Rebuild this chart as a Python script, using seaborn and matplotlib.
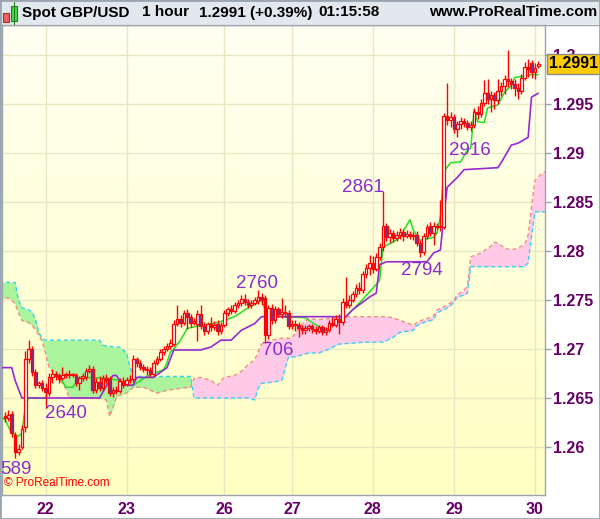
import numpy as np
import matplotlib
matplotlib.use("Agg")
import matplotlib.pyplot as plt
from matplotlib.colors import LinearSegmentedColormap
from matplotlib.patches import Rectangle
import seaborn as sns

# hourly candles, bar 0 = 21st 12:00, last bar = 30th 01:00
opens = [1.2632, 1.2630, 1.2634, 1.2612, 1.2595, 1.2600, 1.2620, 1.2690, 1.2700, 1.2677,
         1.2663, 1.2665, 1.2660, 1.2655, 1.2671, 1.2674, 1.2673, 1.2670, 1.2673, 1.2674,
         1.2673, 1.2673, 1.2665, 1.2670, 1.2671, 1.2678, 1.2680, 1.2658, 1.2666, 1.2660,
         1.2670, 1.2669, 1.2655, 1.2658, 1.2657, 1.2667, 1.2664, 1.2668, 1.2669, 1.2690,
         1.2686, 1.2682, 1.2680, 1.2679, 1.2674, 1.2686, 1.2690, 1.2697, 1.2700, 1.2703,
         1.2705, 1.2726, 1.2731, 1.2727, 1.2737, 1.2733, 1.2727, 1.2726, 1.2736, 1.2723,
         1.2718, 1.2725, 1.2722, 1.2726, 1.2718, 1.2724, 1.2737, 1.2741, 1.2739, 1.2745,
         1.2747, 1.2751, 1.2748, 1.2745, 1.2747, 1.2749, 1.2753, 1.2752, 1.2714, 1.2742,
         1.2730, 1.2741, 1.2736, 1.2738, 1.2737, 1.2723, 1.2726, 1.2724, 1.2721, 1.2719,
         1.2721, 1.2723, 1.2720, 1.2718, 1.2722, 1.2717, 1.2719, 1.2727, 1.2725, 1.2731,
         1.2728, 1.2748, 1.2745, 1.2750, 1.2756, 1.2762, 1.2760, 1.2777, 1.2783, 1.2788,
         1.2782, 1.2794, 1.2804, 1.2826, 1.2814, 1.2818, 1.2813, 1.2816, 1.2819, 1.2815,
         1.2817, 1.2815, 1.2816, 1.2808, 1.2799, 1.2815, 1.2826, 1.2818, 1.2825, 1.2826,
         1.2825, 1.2938, 1.2934, 1.2937, 1.2924, 1.2930, 1.2933, 1.2931, 1.2927, 1.2929,
         1.2942, 1.2940, 1.2951, 1.2961, 1.2955, 1.2959, 1.2954, 1.2963, 1.2968, 1.2975,
         1.2973, 1.2970, 1.2966, 1.2963, 1.2977, 1.2988, 1.2992, 1.2983, 1.2989]
highs = [1.2636, 1.2638, 1.2637, 1.2615, 1.2603, 1.2622, 1.2698, 1.2709, 1.2703, 1.2680,
         1.2667, 1.2668, 1.2665, 1.2676, 1.2680, 1.2678, 1.2676, 1.2682, 1.2677, 1.2679,
         1.2676, 1.2676, 1.2672, 1.2676, 1.2681, 1.2684, 1.2683, 1.2670, 1.2672, 1.2673,
         1.2674, 1.2672, 1.2661, 1.2662, 1.2670, 1.2671, 1.2671, 1.2673, 1.2694, 1.2692,
         1.2689, 1.2685, 1.2683, 1.2682, 1.2689, 1.2693, 1.2700, 1.2703, 1.2706, 1.2710,
         1.2730, 1.2745, 1.2735, 1.2740, 1.2741, 1.2736, 1.2732, 1.2740, 1.2745, 1.2728,
         1.2728, 1.2733, 1.2729, 1.2730, 1.2728, 1.2740, 1.2743, 1.2745, 1.2748, 1.2750,
         1.2755, 1.2756, 1.2751, 1.2750, 1.2753, 1.2760, 1.2757, 1.2755, 1.2745, 1.2746,
         1.2744, 1.2743, 1.2752, 1.2745, 1.2740, 1.2730, 1.2730, 1.2728, 1.2725, 1.2724,
         1.2726, 1.2726, 1.2723, 1.2725, 1.2724, 1.2722, 1.2730, 1.2733, 1.2735, 1.2736,
         1.2752, 1.2773, 1.2755, 1.2759, 1.2766, 1.2768, 1.2780, 1.2787, 1.2796, 1.2795,
         1.2798, 1.2808, 1.2861, 1.2829, 1.2822, 1.2821, 1.2820, 1.2823, 1.2822, 1.2821,
         1.2820, 1.2819, 1.2820, 1.2811, 1.2818, 1.2828, 1.2830, 1.2830, 1.2829, 1.2852,
         1.2941, 1.2971, 1.2942, 1.2940, 1.2933, 1.2937, 1.2936, 1.2934, 1.2933, 1.2946,
         1.2948, 1.2955, 1.2974, 1.2975, 1.2963, 1.2962, 1.2975, 1.2972, 1.2980, 1.3005,
         1.2977, 1.2975, 1.2971, 1.2981, 1.2993, 1.2996, 1.2995, 1.2992, 1.2994]
lows = [1.2626, 1.2627, 1.2610, 1.2589, 1.2592, 1.2598, 1.2615, 1.2686, 1.2672, 1.2660,
        1.2660, 1.2657, 1.2640, 1.2652, 1.2665, 1.2668, 1.2665, 1.2668, 1.2670, 1.2670,
        1.2671, 1.2662, 1.2658, 1.2667, 1.2668, 1.2675, 1.2655, 1.2655, 1.2657, 1.2657,
        1.2665, 1.2652, 1.2651, 1.2654, 1.2655, 1.2660, 1.2662, 1.2665, 1.2666, 1.2682,
        1.2679, 1.2677, 1.2673, 1.2671, 1.2672, 1.2684, 1.2688, 1.2694, 1.2698, 1.2700,
        1.2703, 1.2723, 1.2722, 1.2724, 1.2720, 1.2722, 1.2724, 1.2708, 1.2720, 1.2714,
        1.2715, 1.2718, 1.2719, 1.2714, 1.2715, 1.2722, 1.2734, 1.2736, 1.2737, 1.2742,
        1.2744, 1.2745, 1.2742, 1.2742, 1.2745, 1.2746, 1.2745, 1.2706, 1.2710, 1.2726,
        1.2727, 1.2733, 1.2732, 1.2733, 1.2720, 1.2720, 1.2718, 1.2712, 1.2715, 1.2715,
        1.2718, 1.2716, 1.2715, 1.2716, 1.2714, 1.2714, 1.2717, 1.2722, 1.2722, 1.2715,
        1.2725, 1.2742, 1.2742, 1.2748, 1.2753, 1.2756, 1.2757, 1.2772, 1.2775, 1.2778,
        1.2780, 1.2791, 1.2800, 1.2810, 1.2808, 1.2809, 1.2810, 1.2812, 1.2810, 1.2813,
        1.2812, 1.2811, 1.2805, 1.2794, 1.2796, 1.2812, 1.2815, 1.2806, 1.2822, 1.2820,
        1.2822, 1.2929, 1.2927, 1.2920, 1.2916, 1.2925, 1.2927, 1.2923, 1.2922, 1.2926,
        1.2935, 1.2937, 1.2948, 1.2950, 1.2942, 1.2945, 1.2950, 1.2958, 1.2960, 1.2967,
        1.2965, 1.2958, 1.2955, 1.2960, 1.2974, 1.2978, 1.2977, 1.2975, 1.2987]
closes = [1.2630, 1.2633, 1.2614, 1.2595, 1.2598, 1.2618, 1.2690, 1.2700, 1.2677, 1.2663,
          1.2665, 1.2660, 1.2656, 1.2671, 1.2674, 1.2672, 1.2669, 1.2673, 1.2674, 1.2673,
          1.2674, 1.2665, 1.2670, 1.2672, 1.2678, 1.2680, 1.2658, 1.2666, 1.2660, 1.2670,
          1.2668, 1.2655, 1.2658, 1.2657, 1.2667, 1.2663, 1.2668, 1.2669, 1.2690, 1.2686,
          1.2682, 1.2680, 1.2679, 1.2674, 1.2686, 1.2690, 1.2697, 1.2700, 1.2703, 1.2706,
          1.2726, 1.2731, 1.2727, 1.2737, 1.2733, 1.2727, 1.2729, 1.2736, 1.2723, 1.2718,
          1.2725, 1.2722, 1.2724, 1.2718, 1.2724, 1.2737, 1.2741, 1.2739, 1.2745, 1.2747,
          1.2751, 1.2748, 1.2745, 1.2747, 1.2750, 1.2753, 1.2750, 1.2714, 1.2742, 1.2730,
          1.2741, 1.2736, 1.2738, 1.2737, 1.2723, 1.2726, 1.2724, 1.2721, 1.2719, 1.2721,
          1.2723, 1.2720, 1.2718, 1.2722, 1.2717, 1.2719, 1.2727, 1.2725, 1.2731, 1.2728,
          1.2748, 1.2745, 1.2750, 1.2756, 1.2762, 1.2760, 1.2777, 1.2783, 1.2788, 1.2782,
          1.2794, 1.2804, 1.2826, 1.2814, 1.2818, 1.2813, 1.2816, 1.2819, 1.2815, 1.2817,
          1.2815, 1.2816, 1.2808, 1.2799, 1.2815, 1.2824, 1.2818, 1.2825, 1.2826, 1.2825,
          1.2938, 1.2934, 1.2937, 1.2924, 1.2930, 1.2933, 1.2931, 1.2927, 1.2929, 1.2942,
          1.2940, 1.2951, 1.2961, 1.2955, 1.2959, 1.2954, 1.2963, 1.2968, 1.2975, 1.2973,
          1.2970, 1.2966, 1.2963, 1.2977, 1.2988, 1.2986, 1.2983, 1.2987, 1.2991]

# Ichimoku lines (bar index, price)
tenkan_idx = [-1, 0, 2, 4, 5, 6, 7, 12, 14, 16, 18, 20, 22, 26, 30, 34, 36, 38, 42, 47,
              48, 49, 50, 52, 54, 58, 63, 68, 72, 75, 76, 77, 78, 82, 89, 91, 95, 98, 101, 105,
              109, 111, 112, 115, 117, 120, 121, 123, 127, 128, 129, 130, 132, 135, 137, 138, 139, 140, 142, 143,
              146, 148, 150, 151, 156, 158]
tenkan = [1.2630, 1.2628, 1.2614, 1.2611, 1.2614, 1.2641, 1.2650, 1.2650, 1.2673, 1.2673,
          1.2661, 1.2661, 1.2670, 1.2671, 1.2670, 1.2668, 1.2663, 1.2663, 1.2672, 1.2679,
          1.2686, 1.2697, 1.2700, 1.2709, 1.2721, 1.2724, 1.2727, 1.2733, 1.2742, 1.2748,
          1.2750, 1.2741, 1.2735, 1.2733, 1.2732, 1.2727, 1.2719, 1.2728, 1.2733, 1.2747,
          1.2762, 1.2770, 1.2804, 1.2809, 1.2814, 1.2832, 1.2821, 1.2811, 1.2814, 1.2818,
          1.2835, 1.2881, 1.2890, 1.2891, 1.2903, 1.2905, 1.2944, 1.2932, 1.2931, 1.2946,
          1.2949, 1.2962, 1.2969, 1.2977, 1.2980, 1.2980]
kijun_idx = [-1, 2, 3, 5, 28, 30, 32, 33, 35, 38, 39, 44, 48, 49, 50, 58, 61, 64, 67, 70,
             74, 76, 101, 103, 108, 110, 111, 113, 125, 127, 129, 130, 131, 134, 136, 146, 147, 150, 152, 155,
             156, 158]
kijun = [1.2681, 1.2681, 1.2668, 1.2650, 1.2650, 1.2662, 1.2673, 1.2673, 1.2663, 1.2663,
         1.2671, 1.2671, 1.2681, 1.2690, 1.2699, 1.2699, 1.2702, 1.2709, 1.2709, 1.2719,
         1.2726, 1.2733, 1.2733, 1.2740, 1.2753, 1.2757, 1.2786, 1.2789, 1.2789, 1.2798,
         1.2801, 1.2835, 1.2865, 1.2875, 1.2883, 1.2885, 1.2890, 1.2908, 1.2910, 1.2916,
         1.2957, 1.2961]
span_idx = [-2, 0, 1, 2, 3, 4, 5, 6, 7, 8,
            9, 10, 11, 12, 13, 14, 16, 18, 19, 28,
            29, 30, 31, 32, 33, 34, 35, 36, 37, 38,
            41, 45, 48, 52, 55, 56, 58, 61, 63, 64,
            65, 68, 70, 72, 74, 75, 76, 79, 82, 83,
            84, 85, 86, 88, 90, 93, 96, 99, 103, 107,
            112, 115, 117, 119, 121, 122, 124, 126, 127, 128,
            130, 131, 132, 133, 134, 136, 137, 138, 141, 144,
            145, 146, 148, 150, 152, 154, 155, 156, 157, 159,
            161]
span_a = [1.2768, 1.2768, 1.2768, 1.2768, 1.2768, 1.2750, 1.2742, 1.2741, 1.2740, 1.2738,
          1.2730, 1.2717, 1.2711, 1.2709, 1.2709, 1.2709, 1.2709, 1.2709, 1.2709, 1.2709,
          1.2704, 1.2703, 1.2703, 1.2702, 1.2702, 1.2702, 1.2699, 1.2696, 1.2682, 1.2672,
          1.2672, 1.2672, 1.2672, 1.2672, 1.2672, 1.2650, 1.2650, 1.2650, 1.2650, 1.2650,
          1.2650, 1.2650, 1.2650, 1.2650, 1.2648, 1.2660, 1.2665, 1.2666, 1.2668, 1.2680,
          1.2692, 1.2692, 1.2692, 1.2694, 1.2696, 1.2696, 1.2700, 1.2705, 1.2706, 1.2707,
          1.2707, 1.2712, 1.2717, 1.2718, 1.2719, 1.2724, 1.2727, 1.2729, 1.2730, 1.2737,
          1.2740, 1.2742, 1.2744, 1.2748, 1.2753, 1.2755, 1.2757, 1.2784, 1.2784, 1.2784,
          1.2784, 1.2784, 1.2784, 1.2784, 1.2784, 1.2784, 1.2788, 1.2815, 1.2840, 1.2840,
          1.2840]
span_b = [1.2750, 1.2752, 1.2752, 1.2750, 1.2746, 1.2737, 1.2729, 1.2728, 1.2727, 1.2724,
          1.2720, 1.2714, 1.2708, 1.2696, 1.2682, 1.2677, 1.2670, 1.2660, 1.2650, 1.2650,
          1.2649, 1.2648, 1.2631, 1.2640, 1.2651, 1.2653, 1.2654, 1.2655, 1.2658, 1.2661,
          1.2661, 1.2655, 1.2658, 1.2660, 1.2661, 1.2670, 1.2671, 1.2668, 1.2663, 1.2668,
          1.2671, 1.2673, 1.2677, 1.2684, 1.2689, 1.2697, 1.2705, 1.2709, 1.2711, 1.2711,
          1.2711, 1.2711, 1.2716, 1.2725, 1.2731, 1.2730, 1.2731, 1.2733, 1.2733, 1.2733,
          1.2733, 1.2732, 1.2729, 1.2727, 1.2724, 1.2727, 1.2730, 1.2732, 1.2734, 1.2740,
          1.2743, 1.2745, 1.2747, 1.2750, 1.2755, 1.2760, 1.2764, 1.2794, 1.2798, 1.2805,
          1.2809, 1.2808, 1.2803, 1.2801, 1.2803, 1.2807, 1.2816, 1.2845, 1.2872, 1.2879,
          1.2883]

# swing labels
swing_idx = [3, 12, 75, 77, 112, 123, 134]
swing_text = ["589", "2640", "2760", "706", "2861", "2794", "2916"]
swing_high = [False, False, True, False, True, False, False]

day_pos = [12, 36, 65, 85, 109, 133, 157]
day_labels = ["22", "23", "26", "27", "28", "29", "30"]
price_ticks = [1.26, 1.265, 1.27, 1.275, 1.28, 1.285, 1.29, 1.295, 1.30]
price_labels = ["1.26", "1.265", "1.27", "1.275", "1.28", "1.285", "1.29", "1.295", "1.3"]


def main():
    sns.set_theme(style="white")
    plt.rcParams["font.family"] = ["Liberation Sans", "DejaVu Sans"]

    W, H = 600, 519
    fig = plt.figure(figsize=(W / 100, H / 100), dpi=100)
    fig.patch.set_facecolor("white")

    def fx(px):
        return px / W

    def fy(py):
        return 1 - py / H

    ax = fig.add_axes([fx(2), fy(495), (545 - 2) / W, (495 - 25) / H])
    ax.set_xlim((2 - 5) / 3.375, (545 - 5) / 3.375)
    ax.set_ylim(1.26 - 48 / 9800, 1.26 + 422 / 9800)

    # yellow gradient background
    cmap = LinearSegmentedColormap.from_list("bg", ["#ffffc2", "#fffff2"])
    ax.imshow(np.linspace(0, 1, 256).reshape(-1, 1), extent=[0, 1, 0, 1], transform=ax.transAxes,
              cmap=cmap, aspect="auto", origin="lower", zorder=0)

    # cloud
    si = np.array(span_idx, dtype=float)
    sa = np.array(span_a)
    sb = np.array(span_b)
    ax.fill_between(si, sa, sb, where=sa >= sb, interpolate=True, color="#aaf59c", lw=0, zorder=1)
    ax.fill_between(si, sa, sb, where=sa < sb, interpolate=True, color="#ffcae8", lw=0, zorder=1)
    ax.plot(si, sa, color="#33d4f0", lw=1, dashes=(3, 2), zorder=2)
    ax.plot(si, sb, color="#f58a8a", lw=1, dashes=(3, 2), zorder=2)

    # tenkan / kijun
    sns.lineplot(x=tenkan_idx, y=tenkan, ax=ax, color="#22e022", lw=1.1, estimator=None, sort=False, zorder=3)
    sns.lineplot(x=kijun_idx, y=kijun, ax=ax, color="#9a28d0", lw=1.2, estimator=None, sort=False, zorder=3)

    # candles
    o = np.array(opens)
    c = np.array(closes)
    h = np.array(highs)
    l = np.array(lows)
    idx = np.arange(len(c))
    up = c >= o
    ax.vlines(idx, l, h, color="#ff0000", lw=1, zorder=4)
    lo = np.minimum(o, c)
    bh = np.maximum(np.abs(c - o), 0.00004)
    ax.bar(idx[up], bh[up], bottom=lo[up], width=0.8, color="#ffffff", edgecolor="#ff0000",
           linewidth=0.9, zorder=5)
    ax.bar(idx[~up], bh[~up], bottom=lo[~up], width=0.8, color="#6a3a9e", edgecolor="#ff0000",
           linewidth=0.9, zorder=5)

    # swing labels
    offsets = [(1, -12), (20, -6), (-1, 7), (13, -7), (-20, 4), (2, -14), (13, -13)]
    for i, txt, is_high, off in zip(swing_idx, swing_text, swing_high, offsets):
        yv = highs[i] if is_high else lows[i]
        ax.annotate(txt, xy=(i, yv), xytext=off, textcoords="offset pixels", ha="center", va="center",
                    fontsize=13.5, color="#8a2ccf", zorder=7, annotation_clip=False)

    # axes
    ax.set_xticks(day_pos)
    ax.set_xticklabels(day_labels)
    ax.yaxis.tick_right()
    ax.set_yticks(price_ticks)
    ax.set_yticklabels(price_labels)
    ax.tick_params(axis="y", direction="out", length=4, width=1, color="#9aa5b0", pad=1.5,
                   labelsize=11.5, labelcolor="#660066")
    ax.tick_params(axis="x", length=0, pad=5, labelsize=11.5, labelcolor="#660066")
    for t in ax.get_xticklabels() + ax.get_yticklabels():
        t.set_fontweight("bold")
    ax.grid(True, color="#e9e6c4", lw=1)
    ax.set_axisbelow(True)
    for s in ax.spines.values():
        s.set_color("#9aa5b0")
        s.set_linewidth(1)
    ax.set_xlabel("")
    ax.set_ylabel("")

    # last price tag
    ax.annotate(f"{closes[-1]:.4f}", xy=(1, closes[-1]), xycoords=("axes fraction", "data"),
                xytext=(28.5, 0), textcoords="offset pixels", ha="center", va="center",
                fontsize=11.5, fontweight="bold", color="black", annotation_clip=False, zorder=10,
                bbox=dict(boxstyle="square,pad=0.15", fc="#ffcc00", ec="#8a8a8a", lw=1))

    ax.text(0.004, 0.012, "© ProRealTime.com", transform=ax.transAxes, fontsize=8.5,
            color="#ff0000", va="bottom", ha="left", zorder=8)

    # header band
    fig.add_artist(Rectangle((0, fy(24)), 1, 24 / H, transform=fig.transFigure,
                             fc="#e1e8ee", ec="none", zorder=0))
    fig.add_artist(plt.Line2D([0, 1], [fy(24.5), fy(24.5)], transform=fig.transFigure,
                              color="#9aa5b0", lw=1))
    # small candle icon
    fig.add_artist(Rectangle((fx(3), fy(22)), 6 / W, 9 / H, transform=fig.transFigure,
                             fc="#f06060", ec="#a03030", lw=0.8))
    fig.add_artist(Rectangle((fx(11), fy(21)), 6 / W, 15 / H, transform=fig.transFigure,
                             fc="#44dd44", ec="#208020", lw=0.8))
    fig.add_artist(plt.Line2D([fx(14), fx(14)], [fy(2), fy(24)], transform=fig.transFigure,
                              color="#208020", lw=0.8))
    hy = fy(12.5)
    kw = dict(fontsize=11, fontweight="bold", color="black", va="center")
    fig.text(fx(22), hy, "Spot GBP/USD", ha="left", **kw)
    fig.text(fx(142), hy, "1 hour", ha="left", **kw)
    fig.text(fx(199), hy, "1.2991 (+0.39%)", ha="left", **kw)
    fig.text(fx(318), hy, "01:15:58", ha="left", **kw)
    fig.text(fx(597), hy, "www.ProRealTime.com", ha="right", **kw)

    fig.add_artist(Rectangle((0, 0), 1, 1, transform=fig.transFigure, fill=False,
                             ec="#9aa5b0", lw=2))

    fig.savefig("out.png", dpi=100)


if __name__ == "__main__":
    main()
